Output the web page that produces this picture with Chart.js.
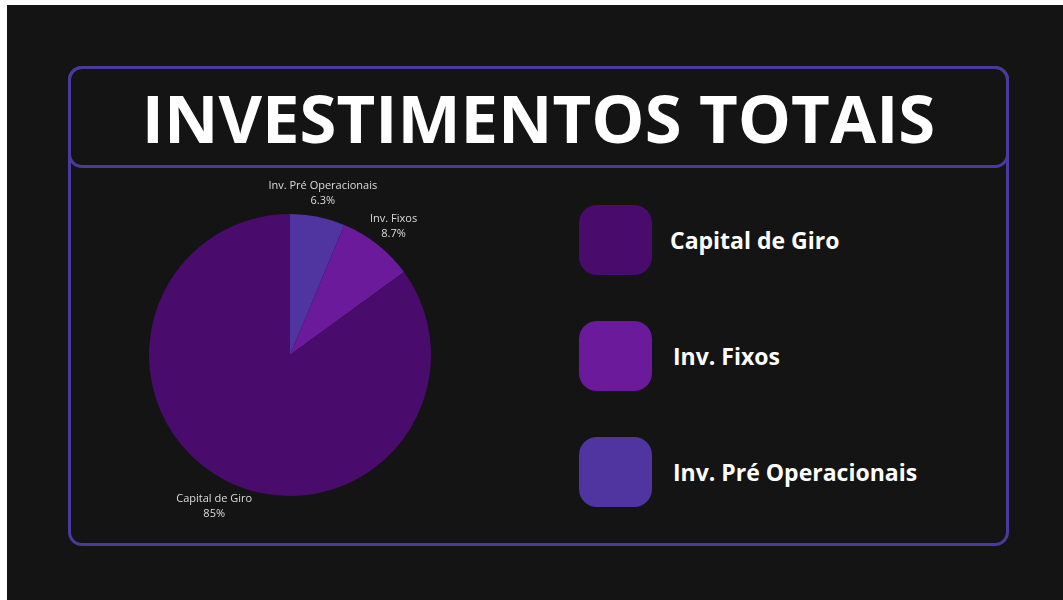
<!DOCTYPE html>
<html lang="pt-BR">
<head>
<meta charset="utf-8">
<title>Investimentos Totais</title>
<script src="https://cdn.jsdelivr.net/npm/chart.js@4"></script>
<style>
  html, body { margin: 0; padding: 0; background: #ffffff; }
  body { width: 1063px; height: 600px; position: relative; overflow: hidden; font-family: "Open Sans", sans-serif; }
  .stage { position: absolute; left: 7px; top: 5px; right: 0; bottom: 0; background: #141414; }
  .frame { position: absolute; left: 68px; top: 66px; width: 935px; height: 474px; border: 3px solid #4a3a9e; border-radius: 14px; }
  .head  { position: absolute; left: 68px; top: 66px; width: 935px; height: 96px; border: 3px solid #4a3a9e; border-radius: 14px; }
  .title { position: absolute; left: 68px; top: 66px; width: 941px; height: 102px; line-height: 102px; text-align: center;
           color: #ffffff; font-weight: 700; font-size: 67px; }
  #pie-wrap { position: absolute; left: 100px; top: 165px; width: 380px; height: 380px; }
  .leg-item { position: absolute; left: 579px; height: 70px; display: flex; align-items: center; }
  .leg-box { width: 73px; height: 70px; border-radius: 18px; }
  .leg-text { color: #ffffff; font-weight: 700; font-size: 23px; }
</style>
</head>
<body>
<div class="stage"></div>
<div class="frame"></div>
<div class="head"></div>
<div class="title">INVESTIMENTOS TOTAIS</div>
<div id="pie-wrap"><canvas id="pie"></canvas></div>
<div id="legend"></div>

<script>
/* ---- DATA --------------------------------------------------- */
const categories = ['Capital de Giro', 'Inv. Fixos', 'Inv. Pré Operacionais'];
const shares     = [85, 8.7, 6.3];
const pctLabels  = ['85%', '8.7%', '6.3%'];
const colors     = ['#4a0c6c', '#6b1a9c', '#5035a1'];

/* ---- LEGEND (custom, right side) ---------------------------- */
const legTops = [205, 321, 437];
const legGap = [18, 21, 21];
document.getElementById('legend').innerHTML = categories.map((c, i) => `
  <div class="leg-item" style="top:${legTops[i]}px">
    <div class="leg-box" style="background:${colors[i]}"></div>
    <span class="leg-text" style="margin-left:${legGap[i]}px">${c}</span>
  </div>`).join('');

/* ---- OUTSIDE LABELS ----------------------------------------- */
const outsideLabels = {
  id: 'outsideLabels',
  afterDatasetsDraw(chart) {
    const { ctx } = chart;
    const meta = chart.getDatasetMeta(0);
    ctx.save();
    ctx.fillStyle = '#dcdcdc';
    ctx.font = '11px "Open Sans", sans-serif';
    ctx.textAlign = 'center';
    ctx.textBaseline = 'middle';
    meta.data.forEach((arc, i) => {
      const p = arc.getProps(['x', 'y', 'startAngle', 'endAngle', 'outerRadius'], true);
      const mid = (p.startAngle + p.endAngle) / 2;
      const r = p.outerRadius + 26;
      const x = p.x + Math.cos(mid) * r;
      const y = p.y + Math.sin(mid) * r;
      ctx.fillText(chart.data.labels[i], x, y - 5);
      ctx.fillText(chart.data.datasets[0].pct[i], x, y + 10);
    });
    ctx.restore();
  }
};

/* ---- PIE ---------------------------------------------------- */
// drawn counter-clockwise in the original, so feed it reversed
const order = [2, 1, 0];
new Chart(document.getElementById('pie'), {
  type: 'pie',
  data: {
    labels: order.map(i => categories[i]),
    datasets: [{
      data: order.map(i => shares[i]),
      pct: order.map(i => pctLabels[i]),
      backgroundColor: order.map(i => colors[i]),
      borderWidth: 0
    }]
  },
  options: {
    responsive: true,
    maintainAspectRatio: false,
    animation: false,
    layout: { padding: 49 },
    plugins: { legend: { display: false }, tooltip: { enabled: false } }
  },
  plugins: [outsideLabels]
});
</script>
</body>
</html>
